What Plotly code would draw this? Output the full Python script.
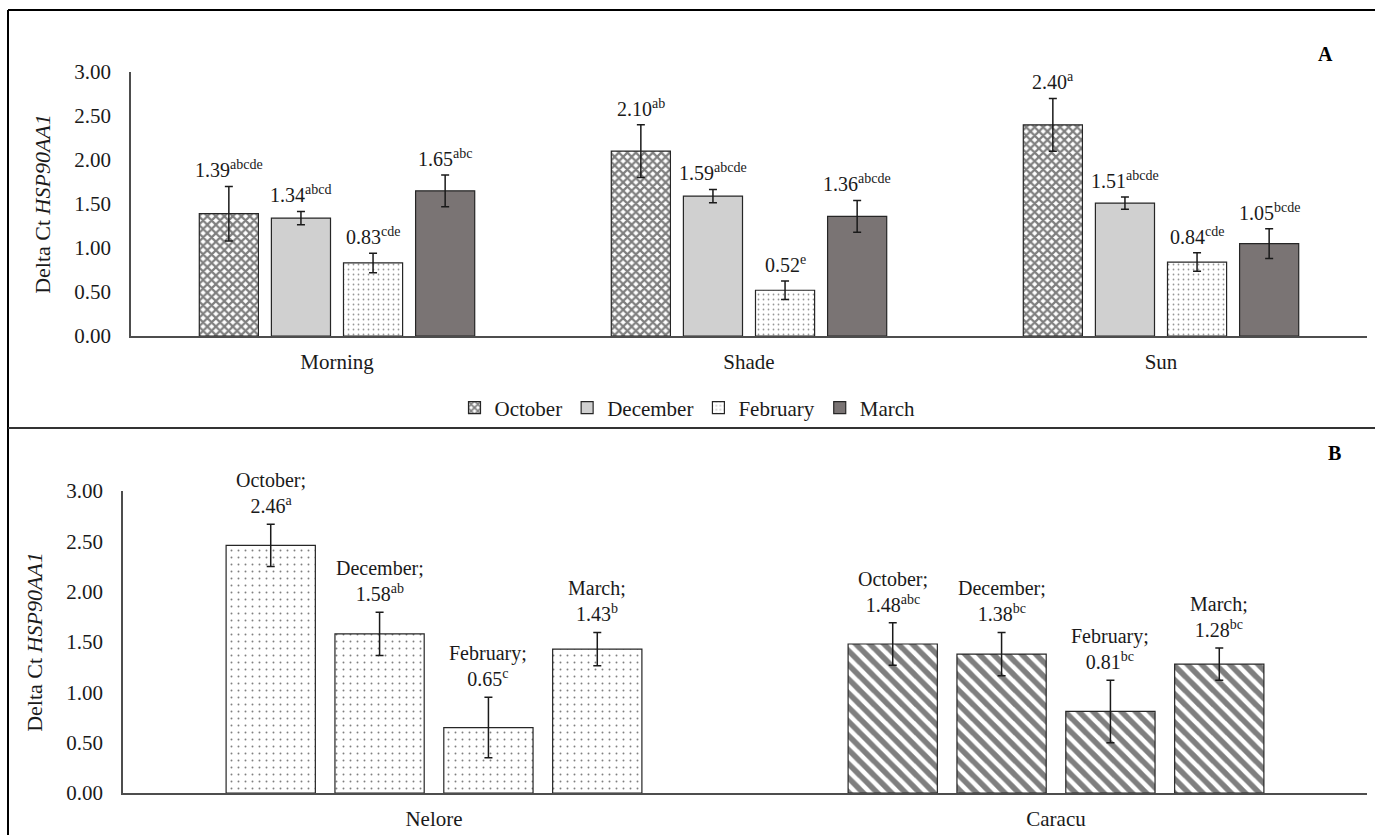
import plotly.graph_objects as go

# ---- Panel A: HSP90AA1 by environment and month ----
env_groups = ["Morning", "Shade", "Sun"]
months = ["October", "December", "February", "March"]

oct_a = [1.39, 2.10, 2.40]
dec_a = [1.34, 1.59, 1.51]
feb_a = [0.83, 0.52, 0.84]
mar_a = [1.65, 1.36, 1.05]

oct_a_err = [0.31, 0.30, 0.30]
dec_a_err = [0.075, 0.075, 0.07]
feb_a_err = [0.11, 0.105, 0.105]
mar_a_err = [0.18, 0.18, 0.17]

oct_a_sig = ["abcde", "ab", "a"]
dec_a_sig = ["abcd", "abcde", "abcde"]
feb_a_sig = ["cde", "e", "cde"]
mar_a_sig = ["abc", "abcde", "bcde"]

# ---- Panel B: HSP90AA1 by breed and month ----
breeds = ["Nelore", "Caracu"]
nelore_vals = [2.46, 1.58, 0.65, 1.43]
caracu_vals = [1.48, 1.38, 0.81, 1.28]
nelore_err = [0.21, 0.215, 0.30, 0.165]
caracu_err = [0.21, 0.215, 0.31, 0.16]
nelore_sig = ["a", "ab", "c", "b"]
caracu_sig = ["abc", "bc", "bc", "bc"]

y_ticks = [0.0, 0.5, 1.0, 1.5, 2.0, 2.5, 3.0]

FONT = "'Liberation Serif', 'Times New Roman', 'DejaVu Serif', serif"
INK = "#1a1a1a"
W, H = 1375, 835
BARGAP = 0.30
SLOT = (1 - BARGAP) / len(months)

a_vals = [oct_a, dec_a, feb_a, mar_a]
a_errs = [oct_a_err, dec_a_err, feb_a_err, mar_a_err]
a_sigs = [oct_a_sig, dec_a_sig, feb_a_sig, mar_a_sig]

a_styles = [
    dict(color="white", pattern=dict(shape="x", size=6, solidity=0.6,
                                     fgcolor="black", bgcolor="white")),
    dict(color="#d0d0d0"),
    dict(color="white", pattern=dict(shape=".", size=5, solidity=0.1,
                                     fgcolor="#303030", bgcolor="white")),
    dict(color="#7a7474"),
]

fig = go.Figure()
annotations = []

for j, m in enumerate(months):
    fig.add_trace(go.Bar(
        name=m, x=env_groups, y=a_vals[j],
        xaxis="x", yaxis="y",
        marker=dict(line=dict(color="#262626", width=1.2), **a_styles[j]),
        error_y=dict(type="data", array=a_errs[j], color=INK,
                     thickness=1.5, width=4),
        showlegend=True,
    ))
    for i, g in enumerate(env_groups):
        annotations.append(dict(
            x=i + (j - 1.5) * SLOT, y=a_vals[j][i] + a_errs[j][i],
            xref="x", yref="y", yanchor="bottom", yshift=3,
            text=f"{a_vals[j][i]:.2f}<sup>{a_sigs[j][i]}</sup>",
            showarrow=False, font=dict(family=FONT, size=20, color=INK),
        ))

b_vals = [[nelore_vals[j], caracu_vals[j]] for j in range(len(months))]
b_errs = [[nelore_err[j], caracu_err[j]] for j in range(len(months))]
b_sigs = [[nelore_sig[j], caracu_sig[j]] for j in range(len(months))]

for j, m in enumerate(months):
    fig.add_trace(go.Bar(
        name=m, x=breeds, y=b_vals[j],
        xaxis="x2", yaxis="y2",
        marker=dict(
            color="white",
            line=dict(color="#262626", width=1.2),
            pattern=dict(shape=[".", "\\"], size=[7, 10], solidity=[0.06, 0.55],
                         fgcolor="black", bgcolor="white"),
        ),
        error_y=dict(type="data", array=b_errs[j], color=INK,
                     thickness=1.5, width=4),
        showlegend=False,
    ))
    for i, b in enumerate(breeds):
        annotations.append(dict(
            x=i + (j - 1.5) * SLOT, y=b_vals[j][i] + b_errs[j][i],
            xref="x2", yref="y2", yanchor="bottom", yshift=5,
            text=f"{m};<br>{b_vals[j][i]:.2f}<sup>{b_sigs[j][i]}</sup>",
            showarrow=False, font=dict(family=FONT, size=20, color=INK),
        ))

# panel letters
annotations.append(dict(x=1335 / W, y=1 - 41 / H, xref="paper", yref="paper",
                        text="<b>A</b>", showarrow=False,
                        font=dict(family=FONT, size=20, color="black")))
annotations.append(dict(x=1343 / W, y=1 - 453 / H, xref="paper", yref="paper",
                        text="<b>B</b>", showarrow=False,
                        font=dict(family=FONT, size=20, color="black")))

axis_line = dict(showline=True, linecolor="#4d4d4d", linewidth=1.5,
                 showgrid=False, zeroline=False, ticks="")
y_common = dict(axis_line, range=[0, 3], tickvals=y_ticks, tickformat=".2f",
                tickfont=dict(family=FONT, size=21, color=INK),
                ticklabelstandoff=14, automargin=False,
                title=dict(text="Delta Ct <i>HSP90AA1</i>", standoff=18,
                           font=dict(family=FONT, size=22, color=INK)))
x_common = dict(axis_line, type="category",
                tickfont=dict(family=FONT, size=21, color=INK),
                ticklabelstandoff=6, automargin=False)

border = dict(color="black", width=2)
shapes = [
    dict(type="line", xref="paper", yref="paper", x0=8 / W, x1=1.01,
         y0=1 - 10 / H, y1=1 - 10 / H, line=border),
    dict(type="line", xref="paper", yref="paper", x0=8 / W, x1=8 / W,
         y0=1 - 10 / H, y1=-0.01, line=border),
    dict(type="line", xref="paper", yref="paper", x0=8 / W, x1=1.01,
         y0=1 - 428 / H, y1=1 - 428 / H, line=dict(color="#333333", width=2)),
]

fig.update_layout(
    width=W, height=H,
    margin=dict(l=0, r=0, t=0, b=0),
    paper_bgcolor="white", plot_bgcolor="white",
    barmode="group", bargap=BARGAP, bargroupgap=0.18,
    xaxis=dict(x_common, domain=[131 / W, 1367 / W], anchor="y"),
    yaxis=dict(y_common, domain=[1 - 336 / H, 1 - 72 / H], anchor="x"),
    xaxis2=dict(x_common, domain=[123 / W, 1367 / W], anchor="y2"),
    yaxis2=dict(y_common, domain=[1 - 793 / H, 1 - 491 / H], anchor="x2"),
    legend=dict(orientation="h", x=0.5, xanchor="center",
                y=1 - 408 / H, yanchor="middle",
                font=dict(family=FONT, size=21, color=INK),
                itemwidth=30, bgcolor="rgba(0,0,0,0)"),
    annotations=annotations,
    shapes=shapes,
    font=dict(family=FONT, color=INK),
)

fig.write_html("out.html")
